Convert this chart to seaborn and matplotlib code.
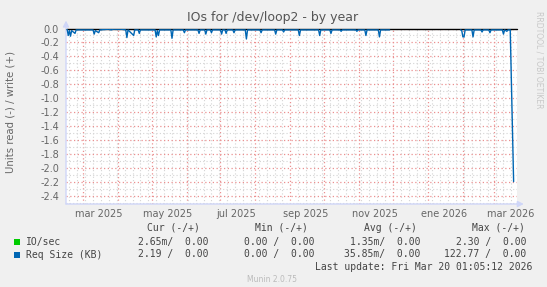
import matplotlib
matplotlib.use("Agg")
import matplotlib.pyplot as plt
import matplotlib.dates as mdates
from matplotlib.patches import Rectangle
from matplotlib.ticker import MultipleLocator, FuncFormatter
import pandas as pd
import seaborn as sns

# ---------------- data ----------------
title = "IOs for /dev/loop2 - by year"
ylabel = "Units read (-) / write (+)"

seg1_dates = [
    "2025-02-15", "2025-02-16", "2025-02-17", "2025-02-18", "2025-02-19", "2025-02-22",
    "2025-02-23", "2025-03-01", "2025-03-03", "2025-03-04", "2025-03-10", "2025-03-11",
    "2025-03-12", "2025-03-15", "2025-03-16", "2025-03-24", "2025-03-26", "2025-03-28",
    "2025-04-04", "2025-04-08", "2025-04-09", "2025-04-10", "2025-04-15", "2025-04-16",
    "2025-04-17", "2025-04-19", "2025-04-20", "2025-04-21", "2025-05-04", "2025-05-05",
    "2025-05-06", "2025-05-07", "2025-05-08", "2025-05-18", "2025-05-19", "2025-05-20",
    "2025-05-29", "2025-05-30", "2025-05-31", "2025-06-11", "2025-06-12", "2025-06-13",
    "2025-06-17", "2025-06-18", "2025-06-19", "2025-06-22", "2025-06-23", "2025-06-24",
    "2025-07-01", "2025-07-02", "2025-07-03", "2025-07-05", "2025-07-06", "2025-07-07",
    "2025-07-12", "2025-07-13", "2025-07-14", "2025-07-23", "2025-07-24", "2025-07-25",
    "2025-08-05", "2025-08-06", "2025-08-07", "2025-08-18", "2025-08-19", "2025-08-20",
    "2025-08-25", "2025-08-26", "2025-08-27", "2025-09-08", "2025-09-09", "2025-09-10",
    "2025-09-26", "2025-09-27", "2025-09-28", "2025-10-06", "2025-10-07", "2025-10-08",
    "2025-10-15", "2025-10-16", "2025-10-17", "2025-10-29", "2025-10-30", "2025-10-31",
    "2025-11-06", "2025-11-07", "2025-11-08", "2025-11-18", "2025-11-19", "2025-11-20",
    "2025-11-28",
]
seg1_values = [
    -0.01, -0.10, -0.03, -0.11, -0.03, -0.07,
    -0.02, -0.02, -0.02, -0.02, -0.02, -0.08,
    -0.03, -0.06, -0.02, -0.01, -0.02, -0.01,
    -0.01, -0.02, -0.13, -0.02, -0.10, -0.02,
    -0.02, -0.02, -0.07, -0.02, -0.02, -0.12,
    -0.03, -0.10, -0.02, -0.02, -0.14, -0.02,
    -0.02, -0.06, -0.02, -0.02, -0.07, -0.02,
    -0.02, -0.08, -0.02, -0.02, -0.06, -0.02,
    -0.02, -0.08, -0.02, -0.02, -0.07, -0.02,
    -0.02, -0.06, -0.02, -0.02, -0.15, -0.02,
    -0.02, -0.06, -0.02, -0.02, -0.08, -0.02,
    -0.02, -0.05, -0.02, -0.02, -0.10, -0.02,
    -0.02, -0.10, -0.02, -0.02, -0.07, -0.02,
    -0.02, -0.04, -0.02, -0.02, -0.04, -0.02,
    -0.02, -0.10, -0.02, -0.02, -0.12, -0.02,
    -0.02,
]
seg2_dates = [
    "2026-01-30", "2026-01-31", "2026-02-01", "2026-02-02", "2026-02-03", "2026-02-09",
    "2026-02-10", "2026-02-11", "2026-02-17", "2026-02-18", "2026-02-19", "2026-02-24",
    "2026-02-25", "2026-02-26", "2026-03-08", "2026-03-09", "2026-03-10", "2026-03-12",
    "2026-03-13", "2026-03-15", "2026-03-18",
]
seg2_values = [
    -0.02, -0.03, -0.12, -0.12, -0.02, -0.02,
    -0.12, -0.02, -0.02, -0.05, -0.02, -0.02,
    -0.06, -0.02, -0.02, -0.08, -0.02, -0.04,
    -0.02, -0.02, -2.19,
]

x_start, x_end = "2025-02-14", "2026-03-21"
month_labels = ["mar 2025", "may 2025", "jul 2025", "sep 2025", "nov 2025", "ene 2026", "mar 2026"]
month_label_dates = ["2025-03-15", "2025-05-15", "2025-07-15", "2025-09-15",
                     "2025-11-15", "2026-01-15", "2026-03-15"]

legend_names = ["IO/sec", "Req Size (KB)"]
legend_colors = ["#00CC00", "#0066B3"]
col_headers = ["Cur (-/+)", "Min (-/+)", "Avg (-/+)", "Max (-/+)"]
cur_vals = ["2.65m/  0.00", "2.19 /  0.00"]
min_vals = ["0.00 /  0.00", "0.00 /  0.00"]
avg_vals = ["1.35m/  0.00", "35.85m/  0.00"]
max_vals = ["2.30 /  0.00", "122.77 /  0.00"]
last_update = "Last update: Fri Mar 20 01:05:12 2026"
footer = "Munin 2.0.75"
side_text = "RRDTOOL / TOBI OETIKER"

# ---------------- figure ----------------
sns.set_style("white")
plt.rcParams["font.family"] = ["DejaVu Sans"]

W, H = 547, 287
fig = plt.figure(figsize=(W / 100, H / 100), dpi=100, facecolor="#F0F0F0")
L, R, T, B = 66, 517, 28.5, 204
ax = fig.add_axes([L / W, 1 - B / H, (R - L) / W, (B - T) / H])
ax.set_facecolor("white")

def fx(x):
    return x / W

def fy(y):
    return 1 - y / H

df = pd.concat([
    pd.DataFrame({"date": pd.to_datetime(seg1_dates), "value": seg1_values, "seg": 1}),
    pd.DataFrame({"date": pd.to_datetime(seg2_dates), "value": seg2_values, "seg": 2}),
], ignore_index=True)

font_c = "#666666"
axis_c = "#CFD6F8"

ax.set_xlim(pd.Timestamp(x_start), pd.Timestamp(x_end))
ax.set_ylim(-2.51, 0.0)

# grid
ax.xaxis.set_major_locator(mdates.MonthLocator())
ax.xaxis.set_minor_locator(mdates.WeekdayLocator(byweekday=mdates.MO))
ax.xaxis.set_major_formatter(plt.NullFormatter())
ax.yaxis.set_major_locator(MultipleLocator(0.2))
ax.yaxis.set_minor_locator(MultipleLocator(0.1))
ax.yaxis.set_major_formatter(FuncFormatter(lambda v, p: f"{v:.1f}".replace("-0.0", "0.0")))
ax.grid(which="minor", color="#D4D4D4", linestyle=(0, (1, 2)), linewidth=0.8)
ax.grid(which="major", color="#EB9090", linestyle=(0, (1, 2)), linewidth=0.9)
ax.set_axisbelow(True)
ax.tick_params(axis="y", which="major", length=2, color="#EB9090", labelsize=7,
               labelcolor=font_c, pad=3)
ax.tick_params(axis="y", which="minor", length=0)
ax.tick_params(axis="x", which="major", length=2, color="#EB9090", labelsize=7)
ax.tick_params(axis="x", which="minor", length=0)
for s in ax.spines.values():
    s.set_visible(False)

ax.axhline(0, color="black", linewidth=1.0, clip_on=False, zorder=3)
sns.lineplot(data=df, x="date", y="value", units="seg", estimator=None,
             color="#0066B3", linewidth=1.0, ax=ax, zorder=4, legend=False)
ax.set_xlabel("")
ax.set_ylabel("")

# axes with arrows
ax.annotate("", xy=(0, 1.045), xytext=(0, 0), xycoords="axes fraction",
            arrowprops=dict(arrowstyle="-|>,head_length=0.35,head_width=0.18",
                            color=axis_c, lw=1, shrinkA=0, shrinkB=0))
ax.annotate("", xy=(1.015, 0), xytext=(0, 0), xycoords="axes fraction",
            arrowprops=dict(arrowstyle="-|>,head_length=0.35,head_width=0.18",
                            color=axis_c, lw=1, shrinkA=0, shrinkB=0))

for lab, d in zip(month_labels, month_label_dates):
    ax.text(pd.Timestamp(d), -0.055, lab, transform=ax.get_xaxis_transform(),
            ha="center", va="center", fontsize=7, color=font_c)

# texts
fig.text(fx(273), fy(18), title, ha="center", va="center", fontsize=9, color="#555555")
fig.text(fx(11), fy(112), ylabel, ha="center", va="center", rotation=90,
         fontsize=7.3, color=font_c)
fig.text(fx(539), fy(60), side_text, ha="center", va="center", rotation=270,
         fontsize=5.5, color="#C8C8C8")

mono = {"family": "DejaVu Sans Mono", "fontsize": 7, "color": "#444444"}
hdr_x = [200, 308, 417, 525]
val_x = [209, 315, 420, 526]
for h, xh in zip(col_headers, hdr_x):
    fig.text(fx(xh), fy(228), h, ha="right", va="center", **mono)
rows_y = [242, 254.5]
for i in range(2):
    fig.patches.append(Rectangle((fx(13.5), fy(rows_y[i] + 3)), 6 / W, 6 / H,
                                 transform=fig.transFigure, facecolor=legend_colors[i],
                                 edgecolor="none", figure=fig))
    fig.text(fx(26), fy(rows_y[i]), legend_names[i], ha="left", va="center", **mono)
    for vals, xv in zip([cur_vals, min_vals, avg_vals, max_vals], val_x):
        fig.text(fx(xv), fy(rows_y[i]), vals[i], ha="right", va="center", **mono)
fig.text(fx(532), fy(266.5), last_update, ha="right", va="center", **mono)
fig.text(fx(272), fy(280), footer, ha="center", va="center", fontsize=5.5, color="#BBBBBB")

fig.savefig("out.png", dpi=100, facecolor=fig.get_facecolor())
